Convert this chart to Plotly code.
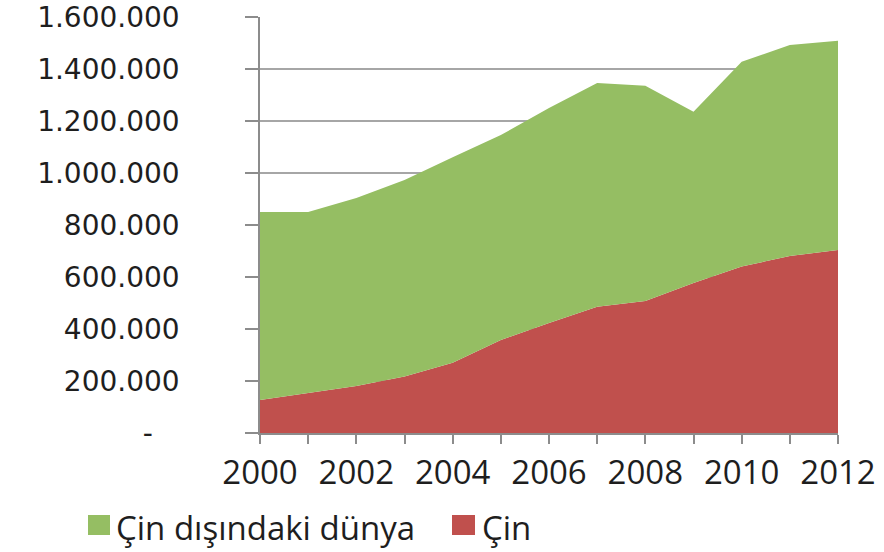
import plotly.graph_objects as go

# Annual values, 2000-2012
years = list(range(2000, 2013))
cin = [127000, 154000, 181000, 217000, 270000, 358000, 423000,
       486000, 508000, 577000, 640000, 681000, 704000]
cin_disindaki_dunya = [723000, 696000, 723000, 756000, 791000, 788000, 827000,
                       860000, 828000, 659000, 788000, 811000, 805000]

y_tickvals = [0, 200000, 400000, 600000, 800000, 1000000, 1200000, 1400000, 1600000]
y_ticktext = ["-\u00a0\u00a0\u00a0", "200.000", "400.000", "600.000", "800.000",
              "1.000.000", "1.200.000", "1.400.000", "1.600.000"]
x_tickvals = [2000, 2002, 2004, 2006, 2008, 2010, 2012]

series_names = ["Çin dışındaki dünya", "Çin"]
GREEN = "#95BE63"
RED = "#C0504D"

fig = go.Figure()
fig.add_trace(go.Scatter(
    x=years, y=cin, name=series_names[1], stackgroup="one", mode="none",
    fillcolor=RED, showlegend=False, hoverinfo="x+y+name"))
fig.add_trace(go.Scatter(
    x=years, y=cin_disindaki_dunya, name=series_names[0], stackgroup="one",
    mode="none", fillcolor=GREEN, showlegend=False, hoverinfo="x+y+name"))

# Legend drawn as colour swatches with text labels beneath the plot
legend_items = [
    (series_names[0], GREEN, -0.2976, -0.2595, -0.2526),
    (series_names[1], RED, 0.3322, 0.3720, 0.3806),
]
for label, color, sx0, sx1, tx in legend_items:
    fig.add_shape(type="rect", xref="paper", yref="paper",
                  x0=sx0, x1=sx1, y0=-0.2452, y1=-0.1971,
                  fillcolor=color, line=dict(width=0))
    fig.add_annotation(text=label, xref="paper", yref="paper",
                       x=tx, y=-0.2260, xanchor="left", yanchor="middle",
                       showarrow=False,
                       font=dict(family="Open Sans", size=33, color="#1e1e1e"))

fig.update_layout(
    width=884, height=552,
    margin=dict(l=260, r=46, t=17, b=119),
    paper_bgcolor="white", plot_bgcolor="white",
    showlegend=False,
)
fig.update_xaxes(
    range=[2000, 2012], tickvals=x_tickvals, ticktext=[str(v) for v in x_tickvals],
    automargin=False,
    showgrid=False, zeroline=False,
    showline=True, linecolor="#8c8c8c", linewidth=1.5,
    ticks="outside", ticklen=9, tickcolor="#8c8c8c", tickwidth=1.5,
    minor=dict(dtick=1, ticks="outside", ticklen=9, tickcolor="#8c8c8c",
               tickwidth=1.5, showgrid=False),
    tickfont=dict(family="Open Sans", size=33, color="#1e1e1e"),
    ticklabelstandoff=1,
)
fig.update_yaxes(
    range=[0, 1600000], tickvals=y_tickvals, ticktext=y_ticktext,
    automargin=False,
    showgrid=True, gridcolor="#a6a6a6", gridwidth=1.5, zeroline=False,
    showline=True, linecolor="#8c8c8c", linewidth=1.5,
    ticks="outside", ticklen=13, tickcolor="#8c8c8c", tickwidth=1.5,
    tickfont=dict(family="DejaVu Sans", size=28, color="#1e1e1e"),
    ticklabelstandoff=60,
)

fig.write_html("out.html")
